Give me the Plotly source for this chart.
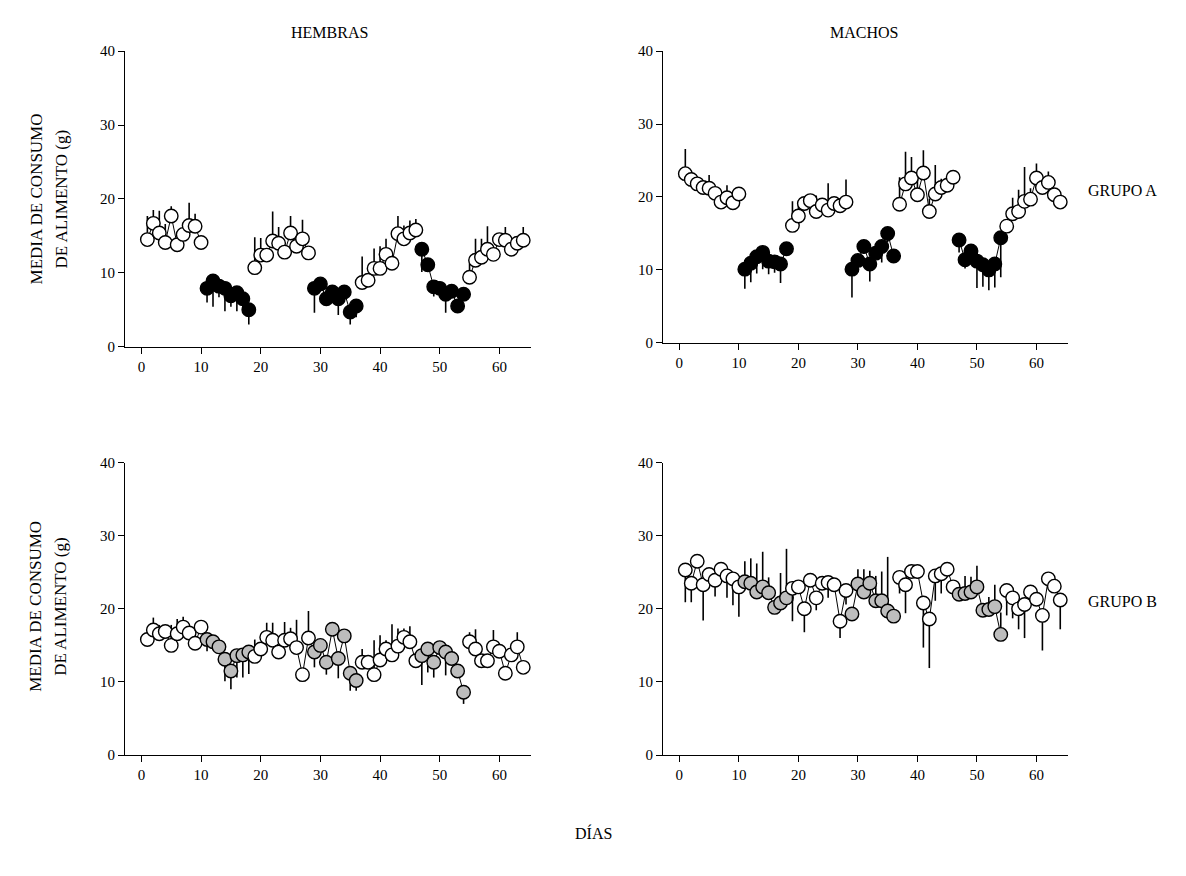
import plotly.graph_objects as go

# ---------------- data ----------------
days = list(range(1, 65))
x_ticks = [0, 10, 20, 30, 40, 50, 60]
y_ticks = [0, 10, 20, 30, 40]

# segment pattern: (first day, last day, condition)
segments = [(1, 10, "base"), (11, 18, "trat"), (19, 28, "base"), (29, 36, "trat"),
            (37, 46, "base"), (47, 54, "trat"), (55, 64, "base")]

# HEMBRAS - GRUPO A
hembras_a = [14.5, 16.7, 15.4, 14.1, 17.7, 13.8, 15.2, 16.4, 16.3, 14.1,
             7.9, 8.9, 8.2, 7.9, 6.9, 7.3, 6.5, 5.0,
             10.7, 12.4, 12.4, 14.3, 14.0, 12.8, 15.4, 13.6, 14.6, 12.7,
             7.9, 8.5, 6.5, 7.4, 6.5, 7.4, 4.7, 5.5,
             8.7, 9.0, 10.6, 10.6, 12.5, 11.3, 15.3, 14.6, 15.4, 15.8,
             13.2, 11.1, 8.1, 7.9, 7.1, 7.5, 5.5, 7.1,
             9.4, 11.7, 12.1, 13.2, 12.5, 14.5, 14.4, 13.2, 14.0, 14.4]
hembras_a_err = [3.2, 1.8, 3.0, 2.5, 1.3, 0, 0, 3.1, 1.7, 0,
                 -1.9, -3.5, -1.5, -3.1, -1.5, -2.5, -1.5, -2.0,
                 4.1, 2.3, 0, 4.0, 2.2, 0, 2.3, 0, 2.6, 0,
                 -3.3, 0, 0, -1.0, -2.2, 0, -1.7, -1.5,
                 3.5, 0, 2.7, 3.0, 2.1, 0, 2.4, 1.8, 1.7, 1.5,
                 -3.1, 0, -1.3, 0, -2.5, 0, 0, 0,
                 1.9, 2.9, 2.5, 3.1, 0, 0.8, 1.8, 0, 0, 1.8]

# MACHOS - GRUPO A
machos_a = [23.2, 22.4, 21.8, 21.3, 21.2, 20.5, 19.3, 19.9, 19.2, 20.4,
            10.1, 10.9, 11.8, 12.4, 11.2, 11.1, 10.8, 12.9,
            16.1, 17.4, 19.1, 19.5, 18.0, 18.9, 18.2, 19.1, 18.8, 19.3,
            10.1, 11.3, 13.2, 10.8, 12.3, 13.2, 15.0, 11.9,
            19.0, 21.8, 22.6, 20.3, 23.3, 18.0, 20.4, 21.3, 21.6, 22.7,
            14.1, 11.4, 12.6, 11.2, 10.7, 10.0, 10.8, 14.4,
            16.0, 17.7, 18.0, 19.4, 19.7, 22.6, 21.3, 22.0, 20.3, 19.3]
machos_a_err = [3.4, 0, 0, 0, 1.8, 1.0, 0, 1.7, 0, 0,
                -2.7, -2.6, -2.3, -2.3, -1.8, -1.5, -2.6, -0.5,
                3.3, 1.5, 0, 0, 2.2, 0.8, 3.7, 0, 0, 3.1,
                -3.9, 0, -1.0, -2.4, 0, -2.2, -1.2, 0,
                3.7, 4.4, 2.9, 2.5, 3.1, 1.8, 4.0, 1.2, 0, 0,
                -1.7, -1.2, -1.0, -3.7, -3.0, -2.8, -3.2, -5.4,
                0, 2.2, 3.0, 4.7, 1.5, 2.0, 1.3, 1.5, 0, 0]

# HEMBRAS - GRUPO B
hembras_b = [15.8, 17.1, 16.6, 16.9, 15.0, 16.6, 17.5, 16.7, 15.3, 17.5,
             15.8, 15.5, 14.8, 13.1, 11.5, 13.6, 13.7, 14.1,
             13.5, 14.5, 16.1, 15.7, 14.1, 15.7, 15.9, 14.7, 11.0, 16.0,
             14.1, 15.0, 12.7, 17.2, 13.2, 16.3, 11.2, 10.2,
             12.7, 12.7, 11.0, 13.0, 14.5, 13.7, 14.9, 16.1, 15.5, 12.9,
             13.6, 14.5, 12.7, 14.7, 14.1, 13.2, 11.5, 8.6,
             15.5, 14.5, 12.9, 12.9, 14.8, 14.2, 11.2, 13.7, 14.8, 12.0]
hembras_b_err = [0, 1.7, 1.2, 0, 2.8, 2.0, 1.4, 0, 0, 0,
                 -1.6, 0, 0, -3.0, -2.5, -3.0, -3.1, -3.0,
                 2.3, 0, 2.0, 2.4, 0, 2.5, 1.5, 3.8, 0, 3.7,
                 -2.1, -1.0, -1.7, 0, -2.7, 0, -2.4, -1.4,
                 1.8, 0, 4.7, 3.4, 1.2, 4.2, 2.4, 1.2, 2.1, 0,
                 -4.0, -3.2, -2.1, 0, -3.2, 0, 0, -1.6,
                 1.3, 2.7, 0, 0, 2.3, 0, 0, 0, 2.0, 0]

# MACHOS - GRUPO B
machos_b = [25.3, 23.5, 26.5, 23.3, 24.7, 23.9, 25.4, 24.5, 24.1, 23.0,
            23.7, 23.5, 22.3, 23.0, 22.2, 20.2, 20.8, 21.5,
            22.8, 23.0, 20.0, 23.9, 21.5, 23.5, 23.6, 23.3, 18.3, 22.5,
            19.3, 23.4, 22.3, 23.5, 21.1, 21.1, 19.7, 19.0,
            24.3, 23.3, 25.1, 25.1, 20.8, 18.6, 24.5, 24.8, 25.4, 23.0,
            22.0, 22.1, 22.3, 23.0, 19.8, 19.9, 20.3, 16.5,
            22.5, 21.5, 20.0, 20.6, 22.3, 21.3, 19.1, 24.1, 23.1, 21.2]
machos_b_err = [-4.4, -2.6, 0, -4.9, 0, -2.2, 0, -3.0, -3.6, -4.1,
                2.8, 3.4, 3.9, 4.8, 2.1, 0, 4.1, 6.7,
                -4.5, 0, -3.2, 0, -1.7, 0, -2.1, 0, -2.3, -1.9,
                0, 2.0, 3.1, 1.7, 3.4, 4.0, 7.4, 0,
                -2.2, -3.9, 0, -1.0, -6.1, -6.7, -3.4, -2.7, 0, 0,
                0, 2.4, 2.1, 2.9, 0, 1.7, 3.0, 3.0,
                -3.4, -2.8, -2.8, -4.6, 0, 0, -4.8, 0, 0, -4.0]

col_titles = ["HEMBRAS", "MACHOS"]
row_titles = ["GRUPO A", "GRUPO B"]
y_title_lines = ["MEDIA DE CONSUMO", "DE ALIMENTO (g)"]
x_title = "DÍAS"

# ---------------- figure ----------------
W, H = 1186, 876
FONT = "Liberation Serif, Times New Roman, serif"

panels = [
    # values, errors, axis suffix, treatment colour, x-domain px, y-domain px
    (hembras_a, hembras_a_err, "", "black", (125, 531), (44, 345)),
    (machos_a, machos_a_err, "2", "black", (663, 1068), (44, 341)),
    (hembras_b, hembras_b_err, "3", "#bdbdbd", (125, 531), (463, 761)),
    (machos_b, machos_b_err, "4", "#bdbdbd", (663, 1068), (463, 761)),
]

fig = go.Figure()
layout = {}
for vals, errs, sfx, tcol, (x0, x1), (ytop, ybot) in panels:
    for (d0, d1, cond) in segments:
        i0, i1 = d0 - 1, d1
        xs = days[i0:i1]
        ys = vals[i0:i1]
        es = errs[i0:i1]
        up = [e if e > 0 else 0 for e in es]
        dn = [-e if e < 0 else 0 for e in es]
        fill = "white" if cond == "base" else tcol
        fig.add_trace(go.Scatter(
            x=xs, y=ys, mode="lines+markers",
            xaxis="x" + sfx, yaxis="y" + sfx,
            line=dict(color="black", width=1),
            marker=dict(size=13.5, color=fill, line=dict(color="black", width=1.4)),
            error_y=dict(type="data", symmetric=False, array=up, arrayminus=dn,
                         width=0, thickness=1.6, color="black"),
            showlegend=False, hoverinfo="x+y"))
    axis_common = dict(showline=True, linecolor="black", linewidth=1.2,
                       ticks="outside", ticklen=6, tickwidth=1.2, tickcolor="black",
                       showgrid=False, zeroline=False,
                       tickfont=dict(family=FONT, size=15, color="black"))
    layout["xaxis" + sfx] = dict(axis_common, domain=[x0 / W, x1 / W],
                                 range=[-2.75, 65.3], tickvals=x_ticks,
                                 anchor="y" + sfx)
    layout["yaxis" + sfx] = dict(axis_common, domain=[(H - ybot) / H, (H - ytop) / H],
                                 range=[0, 40], tickvals=y_ticks,
                                 anchor="x" + sfx)

fig.update_layout(**layout)

ann = []
ann.append(dict(text=col_titles[0], x=329 / W, y=(H - 25) / H))
ann.append(dict(text=col_titles[1], x=864 / W, y=(H - 25) / H))
ann.append(dict(text=row_titles[0], x=1122 / W, y=(H - 186) / H))
ann.append(dict(text=row_titles[1], x=1122 / W, y=(H - 605) / H))
for yc in (195, 610):
    ann.append(dict(text=y_title_lines[0], x=36 / W, y=(H - yc) / H, textangle=-90,
                    font_size=17))
    ann.append(dict(text=y_title_lines[1], x=61 / W, y=(H - yc) / H, textangle=-90,
                    font_size=17))
ann.append(dict(text=x_title, x=593 / W, y=(H - 840) / H))
for a in ann:
    fs = a.pop("font_size", 16)
    a.update(xref="paper", yref="paper", showarrow=False, xanchor="center",
             yanchor="middle", font=dict(family=FONT, size=fs, color="black"))

fig.update_layout(width=W, height=H, margin=dict(l=0, r=0, t=0, b=0),
                  paper_bgcolor="white", plot_bgcolor="white",
                  annotations=ann, font=dict(family=FONT, color="black"))

fig.write_html("out.html")
